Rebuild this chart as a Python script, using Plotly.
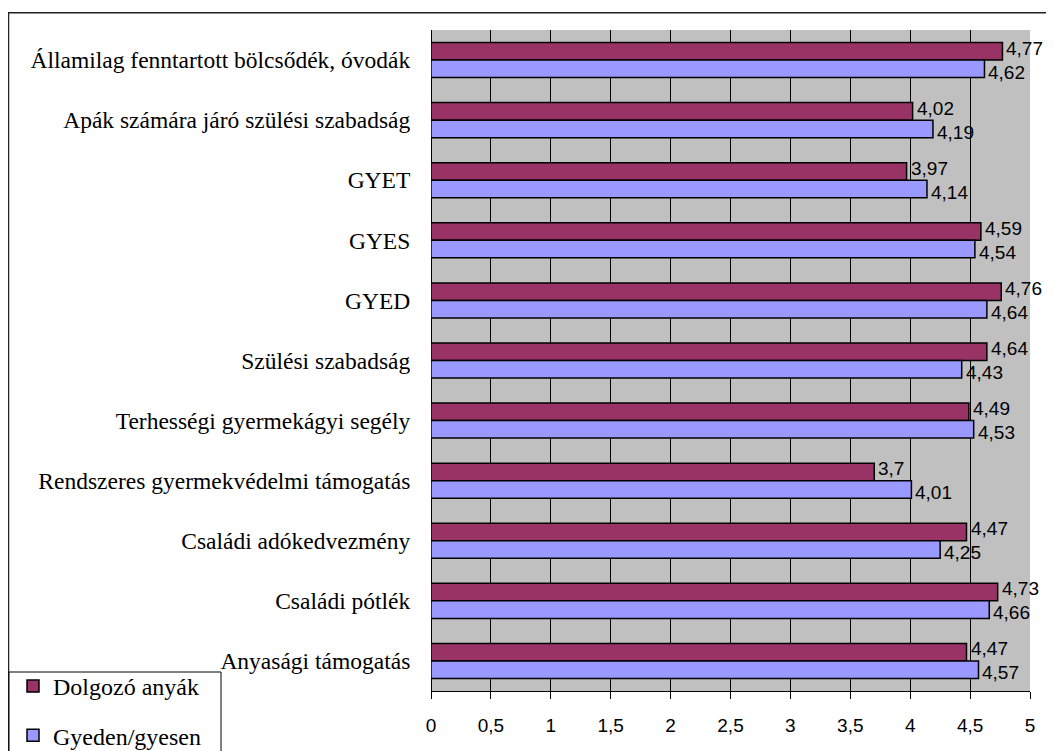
import plotly.graph_objects as go

categories = [
    "Államilag fenntartott bölcsődék, óvodák",
    "Apák számára járó szülési szabadság",
    "GYET",
    "GYES",
    "GYED",
    "Szülési szabadság",
    "Terhességi gyermekágyi segély",
    "Rendszeres gyermekvédelmi támogatás",
    "Családi adókedvezmény",
    "Családi pótlék",
    "Anyasági támogatás",
]
dolgozo = [4.77, 4.02, 3.97, 4.59, 4.76, 4.64, 4.49, 3.7, 4.47, 4.73, 4.47]
gyeden = [4.62, 4.19, 4.14, 4.54, 4.64, 4.43, 4.53, 4.01, 4.25, 4.66, 4.57]
series_names = ["Dolgozó anyák", "Gyeden/gyesen"]
series_colors = ["#993366", "#9999FF"]
tick_vals = [0, 0.5, 1, 1.5, 2, 2.5, 3, 3.5, 4, 4.5, 5]
tick_text = ["0", "0,5", "1", "1,5", "2", "2,5", "3", "3,5", "4", "4,5", "5"]


def fmt(v):
    return str(v).replace(".", ",")


SERIF = "Liberation Serif, Times New Roman, serif"
SANS = "Liberation Sans, Arial, sans-serif"

fig = go.Figure()
for name, vals, col in zip(series_names, [dolgozo, gyeden], series_colors):
    fig.add_trace(go.Bar(
        y=categories, x=vals, orientation="h", name=name,
        marker=dict(color=col, line=dict(color="black", width=1.5)),
        legendgroup=name,
    ))

# value labels: to the right of each bar end, nudged up (first series) / down (second)
annotations = []
for vals, shift in zip([dolgozo, gyeden], [12, -12]):
    for cat, v in zip(categories, vals):
        annotations.append(dict(
            x=v, y=cat, xref="x", yref="y", text=fmt(v), showarrow=False,
            xanchor="left", yanchor="middle", xshift=2, yshift=shift,
            font=dict(family=SANS, size=19, color="black"),
        ))

# page body has an 8px margin, so the figure is 8px smaller than the window
W, H = 1046, 743
L, R, T, B = 423, 24, 22, 60
pw, ph = W - L - R, H - T - B


def px(xf):
    return (xf - L) / pw


def py(yf):
    return (H - B - yf) / ph


fig.update_layout(
    width=W, height=H,
    margin=dict(l=L, r=R, t=T, b=B, pad=0, autoexpand=False),
    paper_bgcolor="white", plot_bgcolor="#C0C0C0",
    barmode="group", bargap=0.417, bargroupgap=0,
    showlegend=True,
    legend=dict(
        x=px(5), xanchor="left", y=py(750), yanchor="bottom",
        borderwidth=0, bgcolor="rgba(0,0,0,0)",
        font=dict(family=SERIF, size=24, color="black"),
        traceorder="grouped", tracegroupgap=15,
    ),
    xaxis=dict(
        range=[0, 5], tickvals=tick_vals, ticktext=tick_text,
        showgrid=True, gridcolor="black", gridwidth=1,
        zeroline=True, zerolinecolor="black", zerolinewidth=1,
        showline=True, linecolor="black", linewidth=1,
        ticks="outside", ticklen=7, tickcolor="black",
        ticklabelstandoff=10,
        tickfont=dict(family=SANS, size=19, color="black"),
        fixedrange=True,
    ),
    yaxis=dict(
        autorange="reversed", showgrid=False, zeroline=False, showline=False,
        ticks="outside", ticklen=15, tickcolor="rgba(0,0,0,0)",
        tickfont=dict(family=SERIF, size=23.5, color="black"),
    ),
    annotations=annotations,
    shapes=[
        dict(type="rect", xref="paper", yref="paper",
             x0=px(0.5), x1=px(W + 20), y0=py(H + 20), y1=py(4.7),
             line=dict(color="#222222", width=1.5), fillcolor="rgba(0,0,0,0)",
             layer="below"),
        dict(type="rect", xref="paper", yref="paper",
             x0=px(1), x1=px(213), y0=py(H + 20), y1=py(664),
             line=dict(color="black", width=1), fillcolor="white",
             layer="above"),
    ],
)

fig.write_html("out.html")
